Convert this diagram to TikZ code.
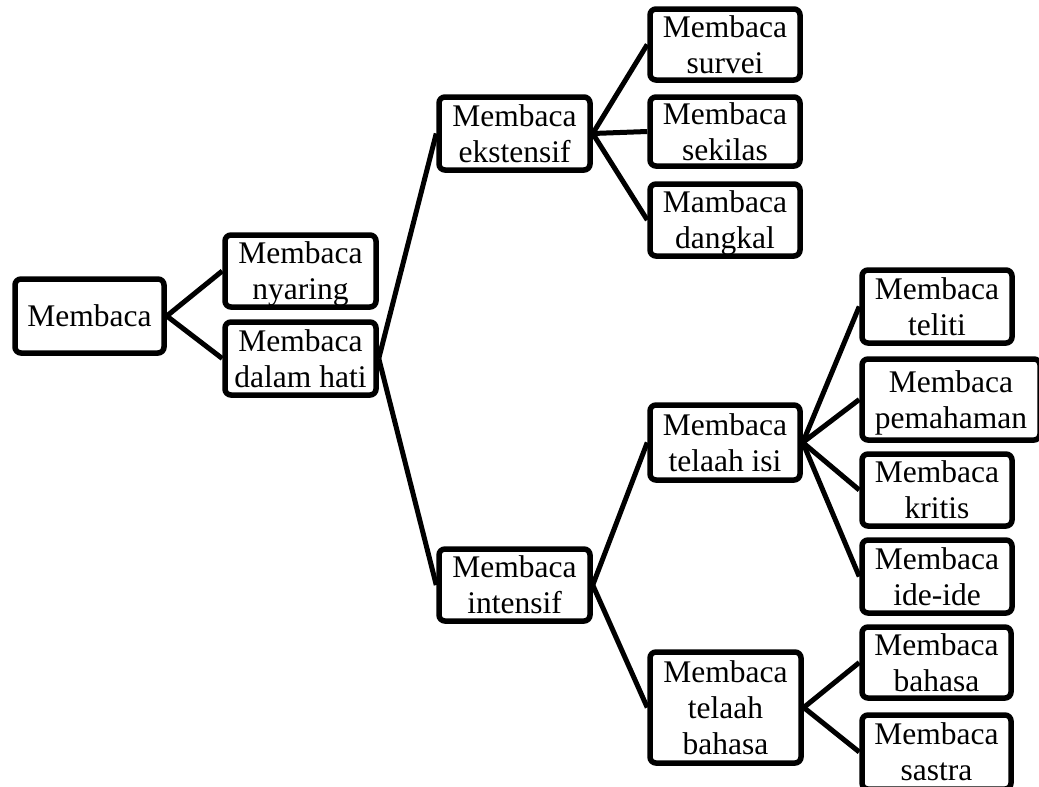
\documentclass[tikz,border=0pt]{standalone}
\usepackage{fontspec}
\setmainfont{Liberation Serif}
\begin{document}
\begin{tikzpicture}[x=1pt,y=-1pt,
  box/.style={draw=black,line width=5.5pt,rounded corners=6pt,fill=white,inner sep=0pt,align=center,
    text depth=0pt,font=\fontsize{31.5}{36}\selectfont},
  link/.style={draw=black,line width=5pt}]
\useasboundingbox (0,0) rectangle (1039,787);
\clip (0,0) rectangle (1039,787);
\node[box,minimum width=149pt,minimum height=74pt] (root) at (89.5,316) {Membaca};
\node[box,minimum width=151pt,minimum height=72pt] (nyaring) at (300.5,271) {Membaca\\nyaring};
\node[box,minimum width=151pt,minimum height=73pt] (dalam) at (300.5,358.5) {Membaca\\dalam hati};
\node[box,minimum width=151pt,minimum height=73pt] (ekst) at (514.5,133.5) {Membaca\\ekstensif};
\node[box,minimum width=150pt,minimum height=71pt] (survei) at (725,44.5) {Membaca\\survei};
\node[box,minimum width=150pt,minimum height=69pt] (sekilas) at (725,131.5) {Membaca\\sekilas};
\node[box,minimum width=150pt,minimum height=72pt] (dangkal) at (725,220) {Mambaca\\dangkal};
\node[box,minimum width=151pt,minimum height=72pt] (intensif) at (514.5,585) {Membaca\\intensif};
\node[box,minimum width=150pt,minimum height=75pt] (telisi) at (725,442.5) {Membaca\\telaah isi};
\node[box,minimum width=151pt,minimum height=111pt] (telbahasa) at (725.5,707.5) {Membaca\\telaah\\bahasa};
\node[box,minimum width=150pt,minimum height=73pt] (teliti) at (937,306.5) {Membaca\\teliti};
\node[box,minimum width=178pt,minimum height=81pt] (pemahaman) at (951,399.5) {Membaca\\pemahaman};
\node[box,minimum width=150pt,minimum height=72pt] (kritis) at (937,490) {Membaca\\kritis};
\node[box,minimum width=150pt,minimum height=73pt] (ideide) at (937,576.5) {Membaca\\ide-ide};
\node[box,minimum width=149pt,minimum height=71pt] (bahasa) at (936.5,662.5) {Membaca\\bahasa};
\node[box,minimum width=149pt,minimum height=74pt] (sastra) at (936.5,752) {Membaca\\sastra};
\draw[link] (root.east) -- (nyaring.west);
\draw[link] (root.east) -- (dalam.west);
\draw[link] (dalam.east) -- (ekst.west);
\draw[link] (dalam.east) -- (intensif.west);
\draw[link] (ekst.east) -- (survei.west);
\draw[link] (ekst.east) -- (sekilas.west);
\draw[link] (ekst.east) -- (dangkal.west);
\draw[link] (intensif.east) -- (telisi.west);
\draw[link] (intensif.east) -- (telbahasa.west);
\draw[link] (telisi.east) -- (teliti.west);
\draw[link] (telisi.east) -- (pemahaman.west);
\draw[link] (telisi.east) -- (kritis.west);
\draw[link] (telisi.east) -- (ideide.west);
\draw[link] (telbahasa.east) -- (bahasa.west);
\draw[link] (telbahasa.east) -- (sastra.west);
\end{tikzpicture}
\end{document}
